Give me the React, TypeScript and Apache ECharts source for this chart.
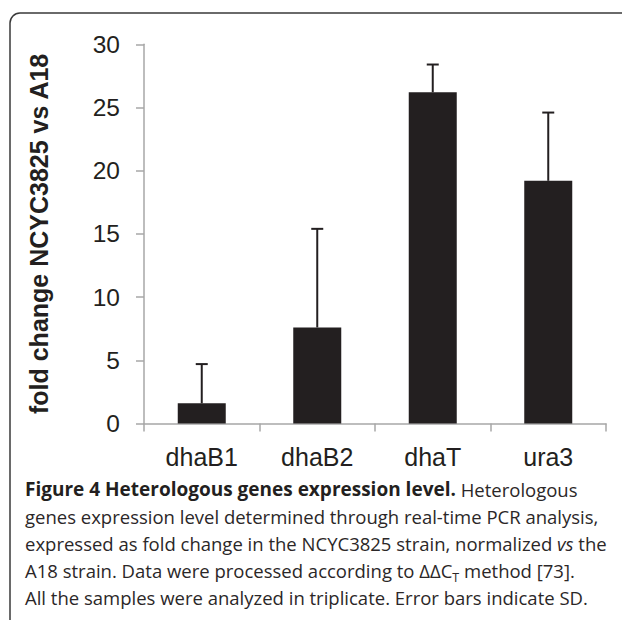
import React, { useEffect, useRef } from "react";
import * as echarts from "echarts";

const categories = ["dhaB1", "dhaB2", "dhaT", "ura3"];
const foldChange = [1.6, 7.6, 26.2, 19.2];
const errorTop = [4.7, 15.4, 28.4, 24.6];
const yTicks = { min: 0, max: 30, interval: 5 };

const INK = "#231f20";
const AXIS = "#a7a7a7";

export default function App() {
  const ref = useRef<HTMLDivElement>(null);
  useEffect(() => {
    if (!ref.current) return;
    const chart = echarts.init(ref.current, undefined, { renderer: "svg" });
    const errData = categories.map((_, i) => [i, foldChange[i], errorTop[i]]);
    chart.setOption({
      animation: false,
      backgroundColor: "#ffffff",
      grid: { left: 144, right: 16, top: 44.3, bottom: 196.5, containLabel: false },
      xAxis: {
        type: "category",
        data: categories,
        axisLine: { lineStyle: { color: AXIS, width: 1.5 } },
        axisTick: { show: true, length: 8, lineStyle: { color: AXIS, width: 1.5 }, alignWithLabel: false },
        axisLabel: { color: INK, fontSize: 25, fontFamily: "Liberation Sans, Arial, sans-serif", margin: 21 },
        splitLine: { show: false },
      },
      yAxis: {
        type: "value",
        min: yTicks.min,
        max: yTicks.max,
        interval: yTicks.interval,
        name: "fold change NCYC3825 vs A18",
        nameLocation: "middle",
        nameGap: 93,
        nameTextStyle: {
          color: INK,
          fontSize: 25,
          fontWeight: "bold",
          fontFamily: "Liberation Sans, Arial, sans-serif",
        },
        axisLine: { show: true, lineStyle: { color: AXIS, width: 1.5 } },
        axisTick: { show: true, length: 8, lineStyle: { color: AXIS, width: 1.5 } },
        axisLabel: { color: INK, fontSize: 24.5, fontFamily: "Liberation Sans, Arial, sans-serif", margin: 24 },
        splitLine: { show: false },
      },
      series: [
        {
          type: "bar",
          data: foldChange,
          barWidth: 48,
          itemStyle: { color: INK },
          z: 2,
        },
        {
          type: "custom",
          data: errData,
          z: 3,
          renderItem: (params: any, api: any) => {
            const idx = api.value(0);
            const v = api.value(1);
            const e = api.value(2);
            const p0 = api.coord([idx, v]);
            const p1 = api.coord([idx, e]);
            const hw = 6;
            return {
              type: "group",
              children: [
                {
                  type: "line",
                  shape: { x1: p0[0], y1: p0[1], x2: p1[0], y2: p1[1] },
                  style: { stroke: INK, lineWidth: 2 },
                },
                {
                  type: "line",
                  shape: { x1: p1[0] - hw, y1: p1[1], x2: p1[0] + hw, y2: p1[1] },
                  style: { stroke: INK, lineWidth: 2 },
                },
              ],
            };
          },
        },
      ],
      graphic: [
        {
          type: "rect",
          shape: { x: 10, y: 13, width: 660, height: 660, r: 10 },
          style: { fill: "none", stroke: "#3a3a3a", lineWidth: 1.5 },
          silent: true,
          z: 10,
        },
        {
          type: "text",
          x: 25,
          y: 475.5,
          z: 10,
          style: {
            text:
              "{b|Figure 4 Heterologous genes expression level.}{n| Heterologous}\n" +
              "{n|genes expression level determined through real-time PCR analysis,}\n" +
              "{n|expressed as fold change in the NCYC3825 strain, normalized }{i|vs}{n| the}\n" +
              "{n|A18 strain. Data were processed according to ΔΔC}{s|T}{n| method [73].}\n" +
              "{n|All the samples were analyzed in triplicate. Error bars indicate SD.}",
            fill: INK,
            fontFamily: "Open Sans",
            fontSize: 18.5,
            lineHeight: 27,
            rich: {
              b: { fontFamily: "Open Sans", fontWeight: "bold", fontSize: 19, lineHeight: 27, fill: INK },
              n: { fontFamily: "Open Sans", fontSize: 18.5, lineHeight: 27, fill: "#2b2728" },
              i: { fontFamily: "Open Sans", fontStyle: "italic", fontSize: 18.5, lineHeight: 27, fill: "#2b2728" },
              s: { fontFamily: "Open Sans", fontSize: 12.5, lineHeight: 16, verticalAlign: "bottom", fill: "#2b2728" },
            },
          },
        },
      ],
    });
    return () => chart.dispose();
  }, []);
  return (
    <div
      ref={ref}
      style={{ position: "fixed", left: 0, top: 0, width: 622, height: 620, background: "#fff" }}
    />
  );
}
